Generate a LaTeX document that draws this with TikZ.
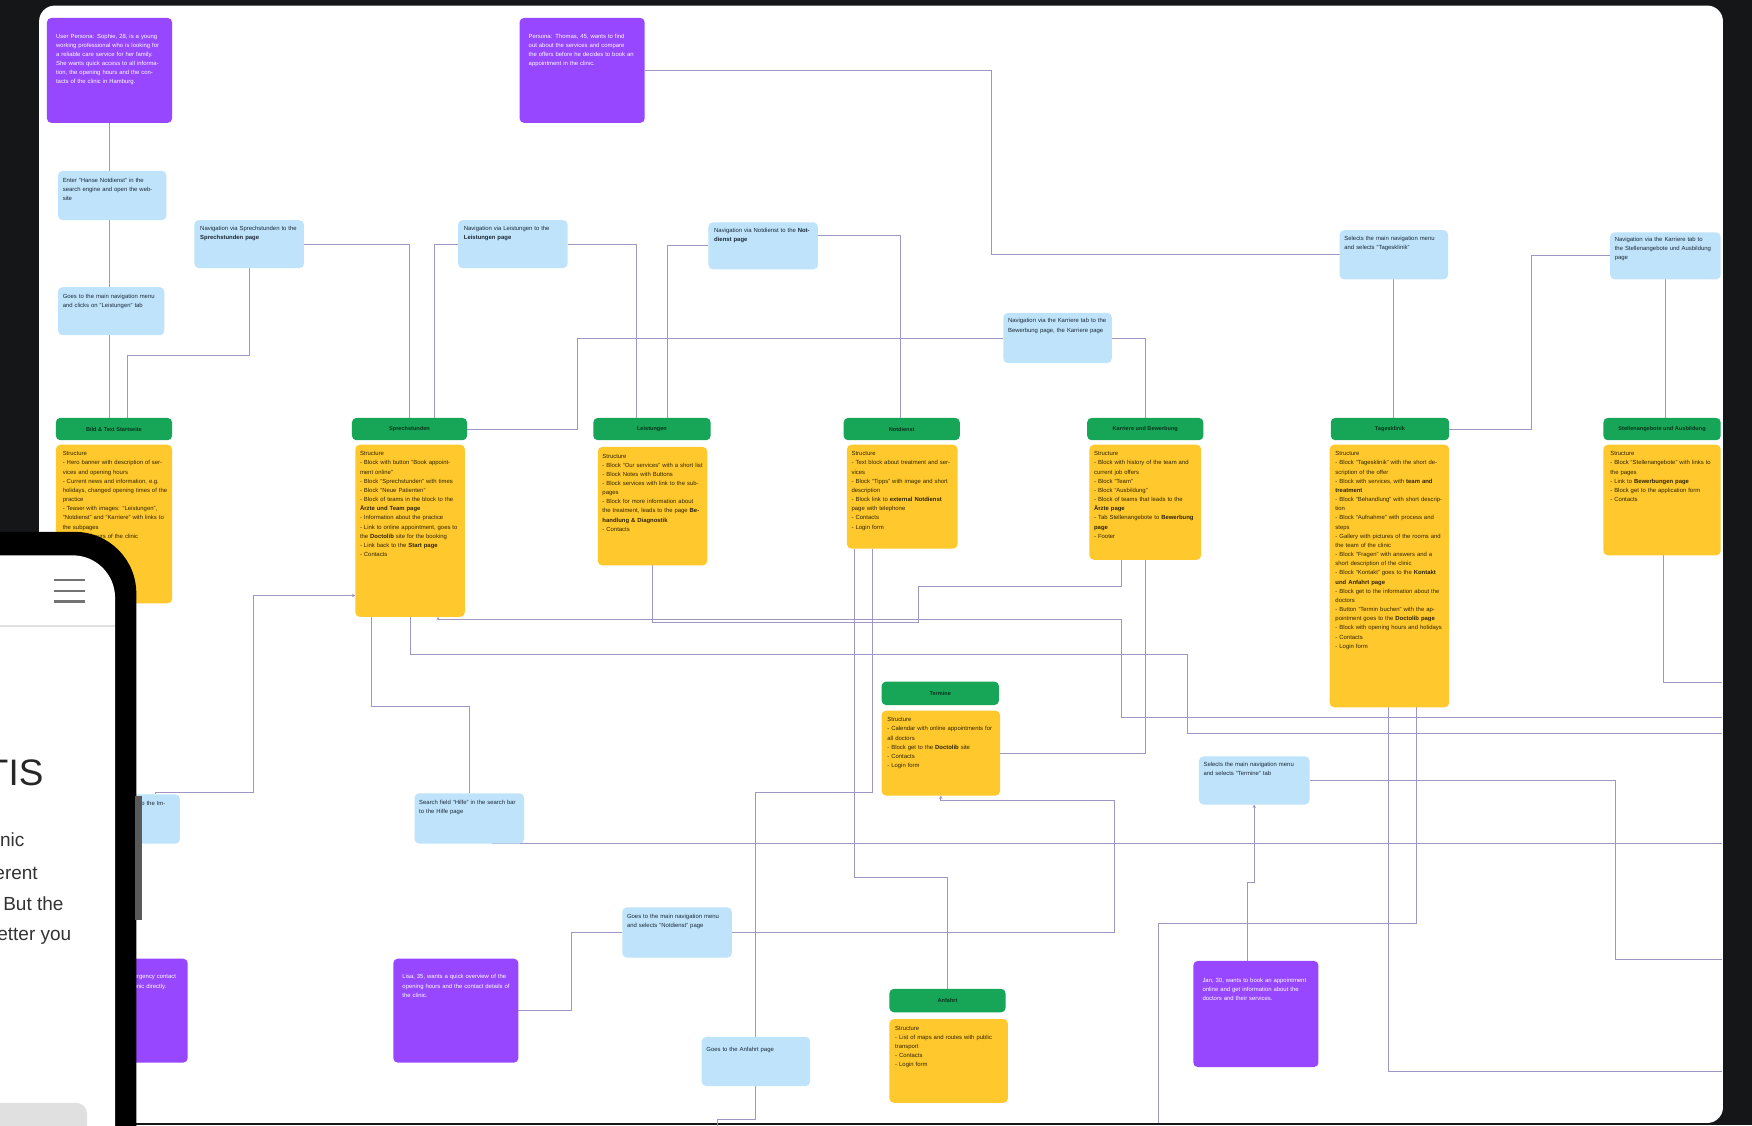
\documentclass[tikz,border=0pt]{standalone}
\usepackage{fontspec}
\setmainfont{Liberation Sans}
\usetikzlibrary{arrows.meta}
\definecolor{bgdark}{HTML}{141618}
\definecolor{pur}{HTML}{9747FF}
\definecolor{blu}{HTML}{BFE3FA}
\definecolor{grn}{HTML}{17A558}
\definecolor{yel}{HTML}{FFC82C}
\definecolor{lin}{HTML}{A096C6}
\definecolor{ytxt}{HTML}{2E2300}
\definecolor{btxt}{HTML}{1A2838}
\definecolor{gtxt}{HTML}{06331A}
\pgfdeclarelayer{back}
\pgfdeclarelayer{background}
\pgfsetlayers{back,background,main}
\begin{document}
\begin{tikzpicture}[x=1pt,y=-1pt,
  card/.style={rounded corners=4pt, draw=none, inner sep=0pt, outer sep=0pt},
  pcard/.style={card, fill=pur},
  bcard/.style={card, fill=blu},
  gcard/.style={card, fill=grn, font=\fontsize{5}{6}\selectfont\bfseries, text=gtxt},
  ycard/.style={card, fill=yel},
  ttxt/.style={anchor=north west, inner sep=0pt, align=left, font=\fontsize{5.3}{8.2}\selectfont},
  ptxt/.style={ttxt, text=white},
  btxt/.style={ttxt, text=btxt},
  ytxt/.style={ttxt, text=ytxt},
  conn/.style={draw=lin, line width=0.75pt},
  tip/.style={-{Stealth[length=3pt,width=3pt]}},
  phonetxt/.style={anchor=base east, inner sep=0pt, text=black!80, font=\fontsize{17}{20}\selectfont}
]
\useasboundingbox (0,0) rectangle (1568,1007);
\begin{pgfonlayer}{back}
  \fill[bgdark] (0,0) rectangle (1568,1007);
  \fill[white, rounded corners=14pt] (35,5) rectangle (1542,1005);
\end{pgfonlayer}

% ---------- purple persona cards
\node[pcard, minimum width=112, minimum height=94] (p1) at (98,63) {};
\node[ptxt, text width=96] (p1t) at (50,30) {User Persona: Sophie, 28, is a young working professional who is looking for a reliable care service for her family. She wants quick access to all information, the opening hours and the contacts of the clinic in Hamburg.};
\node[pcard, minimum width=112, minimum height=94] (p2) at (521,63) {};
\node[ptxt, text width=96] (p2t) at (473,30) {Persona: Thomas, 45, wants to find out about the services and compare the offers before he decides to book an appointment in the clinic.};
\node[pcard, minimum width=112, minimum height=93] (p3) at (408,904.5) {};
\node[ptxt, text width=96] (p3t) at (360,872) {Lisa, 35, wants a quick overview of the opening hours and the contact details of the clinic.};
\node[pcard, minimum width=110, minimum height=93] (p4) at (113,904.5) {};
\node[ptxt, text width=96] (p4t) at (66,872) {Max, 52, needs an emergency contact and wants to call the clinic directly.};
\node[pcard, minimum width=112, minimum height=95] (p5) at (1124,907.5) {};
\node[ptxt, text width=96] (p5t) at (1076,875) {Jan, 30, wants to book an appointment online and get information about the doctors and their services.};

% ---------- blue step cards
\node[bcard, minimum width=97, minimum height=44] (b1) at (100.5,175) {};
\node[btxt, text width=87] (b1t) at (56,159) {Enter “Hanse Notdienst” in the search engine and open the website};
\node[bcard, minimum width=95, minimum height=43] (b2) at (99.5,278.5) {};
\node[btxt, text width=87] (b2t) at (56,263) {Goes to the main navigation menu and clicks on “Leistungen” tab};
\node[bcard, minimum width=98, minimum height=43] (b3) at (223,218.5) {};
\node[btxt, text width=88] (b3t) at (179,202) {Navigation via Sprechstunden to the \textbf{Sprechstunden page}};
\node[bcard, minimum width=98, minimum height=43] (b4) at (459,218.5) {};
\node[btxt, text width=88] (b4t) at (415,202) {Navigation via Leistungen to the \textbf{Leistungen page}};
\node[bcard, minimum width=98, minimum height=42] (b5) at (683,220) {};
\node[btxt, text width=88] (b5t) at (639,204) {Navigation via Notdienst to the \textbf{Notdienst page}};
\node[bcard, minimum width=97, minimum height=45] (b6) at (946.5,302.5) {};
\node[btxt, text width=88] (b6t) at (902,285) {Navigation via the Karriere tab to the Bewerbung page, the Karriere page};
\node[bcard, minimum width=97, minimum height=44] (b7) at (1247.5,228) {};
\node[btxt, text width=88] (b7t) at (1203,211) {Selects the main navigation menu and selects “Tagesklinik”};
\node[bcard, minimum width=99, minimum height=42] (b8) at (1490.5,229) {};
\node[btxt, text width=90] (b8t) at (1445,212) {Navigation via the Karriere tab to the Stellenangebote und Ausbildung page};
\node[bcard, minimum width=99, minimum height=43] (b9) at (1122.5,698.5) {};
\node[btxt, text width=90] (b9t) at (1077,682) {Selects the main navigation menu and selects “Termine” tab};
\node[bcard, minimum width=98, minimum height=45] (b10) at (420,732.5) {};
\node[btxt, text width=88] (b10t) at (375,716) {Search field “Hilfe” in the search bar to the Hilfe page};
\node[bcard, minimum width=101, minimum height=44] (b11) at (110.5,733) {};
\node[btxt, text width=88] (b11t) at (65,717) {Navigation via the footer to the Impressum};
\node[bcard, minimum width=98, minimum height=45] (b12) at (606,834.5) {};
\node[btxt, text width=88] (b12t) at (561,818) {Goes to the main navigation menu and selects “Notdienst” page};
\node[bcard, minimum width=97, minimum height=44] (b13) at (676.5,950) {};
\node[btxt, text width=88] (b13t) at (632,937) {Goes to the Anfahrt page};

% ---------- green page headers
\node[gcard, minimum width=104, minimum height=20] (g1) at (102,384) {Bild \& Text Startseite};
\node[gcard, minimum width=103, minimum height=20] (g2) at (366.5,384) {Sprechstunden};
\node[gcard, minimum width=105, minimum height=20] (g3) at (583.5,384) {Leistungen};
\node[gcard, minimum width=104, minimum height=20] (g4) at (807,384) {Notdienst};
\node[gcard, minimum width=104, minimum height=20] (g5) at (1025,384) {Karriere und Bewerbung};
\node[gcard, minimum width=106, minimum height=20] (g6) at (1244,384) {Tagesklinik};
\node[gcard, minimum width=105, minimum height=20] (g7) at (1487.5,384) {Stellenangebote und Ausbildung};
\node[gcard, minimum width=105, minimum height=21] (g8) at (841.5,620.5) {Termine};
\node[gcard, minimum width=104, minimum height=21] (g9) at (848,895.5) {Anfahrt};

% ---------- yellow page contents
\node[ycard, minimum width=104, minimum height=142] (y1) at (102,469) {};
\node[ytxt, text width=94] (y1t) at (56,404) {Structure\\- Hero banner with description of services and opening hours\\- Current news and information, e.g. holidays, changed opening times of the practice\\- Teaser with images: “Leistungen”, “Notdienst” and “Karriere” with links to the subpages\\- Opening hours of the clinic\\- Contacts\\- Footer};
\node[ycard, minimum width=98, minimum height=154] (y2) at (367,475) {};
\node[ytxt, text width=90] (y2t) at (322,404) {Structure\\- Block with button “Book appointment online”\\- Block “Sprechstunden” with times\\- Block “Neue Patienten”\\- Block of teams in the block to the \textbf{Ärzte und Team page}\\- Information about the practice\\- Link to online appointment, goes to the \textbf{Doctolib} site for the booking\\- Link back to the \textbf{Start page}\\- Contacts};
\node[ycard, minimum width=98, minimum height=106] (y3) at (584,453) {};
\node[ytxt, text width=90] (y3t) at (539,406) {Structure\\- Block “Our services” with a short list\\- Block Notes with Buttons\\- Block services with link to the subpages\\- Block for more information about the treatment, leads to the page \textbf{Behandlung \& Diagnostik}\\- Contacts};
\node[ycard, minimum width=99, minimum height=93] (y4) at (807.5,444.5) {};
\node[ytxt, text width=90] (y4t) at (762,404) {Structure\\- Text block about treatment and services\\- Block “Tipps” with image and short description\\- Block link to \textbf{external Notdienst} page with telephone\\- Contacts\\- Login form};
\node[ycard, minimum width=100, minimum height=103] (y5) at (1025,449.5) {};
\node[ytxt, text width=92] (y5t) at (979,404) {Structure\\- Block with history of the team and current job offers\\- Block “Team”\\- Block “Ausbildung”\\- Block of teams that leads to the \textbf{Ärzte page}\\- Tab Stellenangebote to \textbf{Bewerbung page}\\- Footer};
\node[ycard, minimum width=107, minimum height=235] (y6) at (1243.5,515.5) {};
\node[ytxt, text width=98] (y6t) at (1195,404) {Structure\\- Block “Tagesklinik” with the short description of the offer\\- Block with services, with \textbf{team and treatment}\\- Block “Behandlung” with short description\\- Block “Aufnahme” with process and steps\\- Gallery with pictures of the rooms and the team of the clinic\\- Block “Fragen” with answers and a short description of the clinic\\- Block “Kontakt” goes to the \textbf{Kontakt und Anfahrt page}\\- Block get to the information about the doctors\\- Button “Termin buchen” with the appointment goes to the \textbf{Doctolib page}\\- Block with opening hours and holidays\\- Contacts\\- Login form};
\node[ycard, minimum width=105, minimum height=99] (y7) at (1487.5,447.5) {};
\node[ytxt, text width=96] (y7t) at (1441,404) {Structure\\- Block “Stellenangebote” with links to the pages\\- Link to \textbf{Bewerbungen page}\\- Block get to the application form\\- Contacts};
\node[ycard, minimum width=106, minimum height=76] (y8) at (842,674) {};
\node[ytxt, text width=96] (y8t) at (794,642) {Structure\\- Calendar with online appointments for all doctors\\- Block get to the \textbf{Doctolib} site\\- Contacts\\- Login form};
\node[ycard, minimum width=106, minimum height=75] (y9) at (849,949.5) {};
\node[ytxt, text width=96] (y9t) at (801,918) {Structure\\- List of maps and routes with public transport\\- Contacts\\- Login form};

% ---------- connectors
\begin{pgfonlayer}{background}
  \draw[conn] (p1.south) -- (p1.south |- b1.north);
  \draw[conn] (b1.south -| p1.south) -- (p1.south |- b2.north);
  \draw[conn] (b2.south -| p1.south) -- (p1.south |- g1.north);
  \draw[conn] (b3.south) -- (223,318) -- (114,318) -- (g1.north -| 114,0);
  \draw[conn] (p2.east) -- (887,63) -- (887,228) -- (b7.west);
  \draw[conn] (b3.east) -- (366,218.5) -- (g2.north -| 366,0);
  \draw[conn] (b4.west) -- (389,218.5) -- (g2.north -| 389,0);
  \draw[conn] (b4.east) -- (570,218.5) -- (g3.north -| 570,0);
  \draw[conn] (b5.west) -- (597,220) -- (g3.north -| 597,0);
  \draw[conn] (b5.east |- 0,211) -- (806,211) -- (g4.north -| 806,0);
  \draw[conn] (g2.east) -- (517,384) -- (517,302.5) -- (b6.west);
  \draw[conn] (b6.east) -- (1025,302.5) -- (g5.north);
  \draw[conn] (b7.south) -- (b7.south |- g6.north);
  \draw[conn] (g6.east) -- (1371,384) -- (1371,229) -- (b8.west);
  \draw[conn] (b8.south) -- (b8.south |- g7.north);
  % below the page cards
  \draw[conn] (y3.south) -- (584,557) -- (822,557) -- (822,525) -- (1004,525) -- (y5.south -| 1004,0);
  \draw[conn, tip] (1541,642) -- (1004,642) -- (1004,554) -- (392,554) -- (y2.south -| 392,0);
  \draw[conn] (y2.south -| 367,0) -- (367,586) -- (1063,586) -- (1063,656) -- (1541,656);
  \draw[conn] (y2.south -| 332,0) -- (332,632) -- (420,632) -- (b10.north);
  \draw[conn, tip] (b11.north -| 139,0) -- (139,709) -- (227,709) -- (227,533) -- (y2.west |- 0,533);
  \draw[conn] (y4.south -| 765,0) -- (765,785) -- (848,785) -- (g9.north);
  \draw[conn] (y4.south -| 781,0) -- (781,709) -- (676.5,709) -- (b13.north);
  \draw[conn] (b13.south) -- (676.5,1002) -- (642,1002) -- (642,1010);
  \draw[conn] (y5.south -| 1025,0) -- (1025,674) -- (y8.east);
  \draw[conn, tip] (b12.east) -- (997,834.5) -- (997,716) -- (842,716) -- (y8.south);
  \draw[conn] (b10.south -| 440,0) -- (1541,755);
  \draw[conn] (p3.east) -- (511,904.5) -- (511,834.5) -- (b12.west);
  \draw[conn] (b9.east) -- (1446,698.5) -- (1446,859) -- (1541,859);
  \draw[conn, tip] (p5.north -| 1116,0) -- (1116,790) -- (1122.5,790) -- (b9.south);
  \draw[conn] (y6.south -| 1268,0) -- (1268,826) -- (1037,826) -- (1037,1005);
  \draw[conn] (y6.south -| 1243,0) -- (1243,959) -- (1541,959);
  \draw[conn] (y7.south -| 1489,0) -- (1489,611) -- (1541,611);
\end{pgfonlayer}

% ---------- phone mockup in the foreground
\begin{scope}
  \clip (0,0) rectangle (1568,1007);
  \fill[black] (-10,1020) -- (-10,476) -- (67,476) .. controls (97.4,476) and (122,500.6) .. (122,531) -- (122,1020) -- cycle;
  \fill[black!65] (121,712) rectangle (127,823);
  \fill[white] (-10,1020) -- (-10,497) -- (65,497) .. controls (86,497) and (103,514) .. (103,535) -- (103,1020) -- cycle;
  \draw[black!12, line width=1.5pt] (-10,560) -- (103,560);
  \draw[black!55, line width=2.2pt] (48,519) -- (76,519);
  \draw[black!55, line width=2.2pt] (48,529) -- (76,529);
  \draw[black!55, line width=2.2pt] (48,538.5) -- (76,538.5);
  \node[anchor=base east, inner sep=0pt, text=black!85, font=\fontsize{33}{36}\selectfont] (tis) at (39,703) {TIS};
  \node[phonetxt] (l1) at (22,758) {nic};
  \node[phonetxt] (l2) at (34,787) {erent};
  \node[phonetxt] (l3) at (57,815) {But the};
  \node[phonetxt] (l4) at (64,842) {etter you};
  \fill[black!12, rounded corners=10pt] (-10,987) rectangle (78,1025);
\end{scope}
\end{tikzpicture}
\end{document}
